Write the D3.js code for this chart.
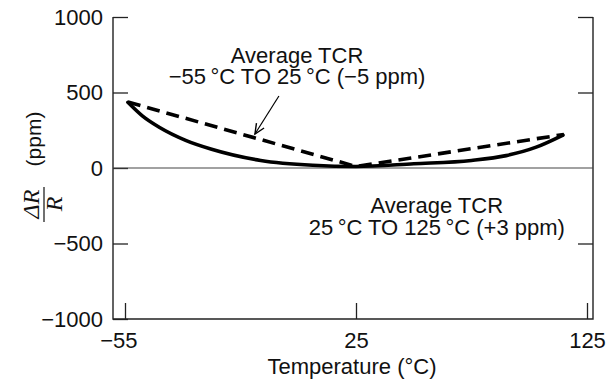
<!DOCTYPE html>
<html>
<head>
<meta charset="utf-8">
<script src="https://cdn.jsdelivr.net/npm/d3@7"></script>
<style>
  body { margin: 0; background: #fff; }
  text { font-family: "Liberation Sans", Arial, sans-serif; fill: #111; }
</style>
</head>
<body>
<svg id="chart" width="609" height="382"></svg>
<script>
//axis ticks
const xTicks = [-55, 25, 125];
const yTicks = [-1000, -500, 0, 500, 1000];
const rightTicks = [-500, 500, 1000];

//measured dR/R curve (ppm vs temperature)
const curveTemp = [-54, -49, -43, -34, -25, -8, 10, 25, 50, 75, 90, 103, 114.6];
const curveVal  = [435, 345, 268, 183, 124, 50, 18, 10, 28, 50, 82, 138, 218];

//average TCR chords
const avgTemp = [-54, 25, 115];
const avgVal  = [437, 10, 222];

//annotation text + arrow (data coordinates)
const noteTop = ["Average TCR", "\u221255\u2009°C TO 25\u2009°C (\u22125 ppm)"];
const noteBottom = ["Average TCR", "25\u2009°C TO 125\u2009°C (+3 ppm)"];
const arrowFrom = [-1.7, 477];
const arrowTo = [-10, 225];

const svg = d3.select("#chart");
const fontSize = "22px";

//plot frame
const plotLeft = 113, plotRight = 593, plotTop = 17, plotBottom = 319;

//x axis ticks are evenly spaced in the original, so piecewise scale
const x = d3.scaleLinear()
  .domain(xTicks)
  .range([125, 356, 587]);

const y = d3.scaleLinear()
  .domain([-1000, 1000])
  .range([plotBottom, plotTop]);

const axisColor = "#222";

/*----------------------
AXES
----------------------*/
const gLeft = svg.append("g")
  .attr("transform", `translate(${plotLeft},0)`)
  .call(d3.axisLeft(y)
    .tickValues(yTicks)
    .tickFormat(d3.format("d"))
    .tickSizeInner(-15)
    .tickSizeOuter(0)
    .tickPadding(10));

const gRight = svg.append("g")
  .attr("transform", `translate(${plotRight},0)`)
  .call(d3.axisRight(y)
    .tickValues(rightTicks)
    .tickFormat("")
    .tickSizeInner(-15)
    .tickSizeOuter(0));

const gBottom = svg.append("g")
  .attr("transform", `translate(0,${plotBottom})`)
  .call(d3.axisBottom(x)
    .tickValues(xTicks)
    .tickFormat(d3.format("d"))
    .tickSizeInner(-16)
    .tickSizeOuter(0)
    .tickPadding(13));

[gLeft, gRight, gBottom].forEach(g => {
  g.select(".domain").remove();
  g.selectAll("line").attr("stroke", axisColor).attr("stroke-width", 1.3);
  g.selectAll("text")
    .style("font-size", fontSize)
    .style("font-family", "'Liberation Sans', Arial, sans-serif")
    .attr("fill", "#111");
});

//number centred on the tick, minus sign hanging to the left
gBottom.selectAll("text").filter(d => d < 0).attr("dx", "-0.3em");

//frame lines (no top border)
svg.append("path")
  .attr("d", `M${plotLeft},${plotTop}V${plotBottom}H${plotRight}V${plotTop}`)
  .attr("fill", "none")
  .attr("stroke", axisColor)
  .attr("stroke-width", 1.4);

//zero line
svg.append("line")
  .attr("x1", plotLeft).attr("x2", plotRight)
  .attr("y1", y(0)).attr("y2", y(0))
  .attr("stroke", "#444")
  .attr("stroke-width", 1.1);

/*----------------------
CURVES
----------------------*/
const curveData = curveTemp.map((t, i) => ({ t: t, v: curveVal[i] }));
const avgData = avgTemp.map((t, i) => ({ t: t, v: avgVal[i] }));

const line = d3.line()
  .x(d => x(d.t))
  .y(d => y(d.v));

svg.append("path")
  .attr("d", line.curve(d3.curveMonotoneX)(curveData))
  .attr("fill", "none")
  .attr("stroke", "#000")
  .attr("stroke-width", 3.6)
  .attr("stroke-linecap", "round");

svg.append("path")
  .attr("d", line.curve(d3.curveLinear)(avgData))
  .attr("fill", "none")
  .attr("stroke", "#000")
  .attr("stroke-width", 3.6)
  .attr("stroke-dasharray", "13,7");

/*----------------------
ANNOTATIONS
----------------------*/
svg.append("defs").append("marker")
  .attr("id", "arrow")
  .attr("viewBox", "-1 -6 12 12")
  .attr("refX", 10).attr("refY", 0)
  .attr("markerWidth", 12).attr("markerHeight", 12)
  .attr("markerUnits", "userSpaceOnUse")
  .attr("orient", "auto")
  .append("path")
  .attr("d", "M0,-4.5L10,0L0,4.5")
  .attr("fill", "none")
  .attr("stroke", "#000")
  .attr("stroke-width", 1.4);

svg.append("line")
  .attr("x1", x(arrowFrom[0])).attr("y1", y(arrowFrom[1]))
  .attr("x2", x(arrowTo[0])).attr("y2", y(arrowTo[1]))
  .attr("stroke", "#000")
  .attr("stroke-width", 1.2)
  .attr("marker-end", "url(#arrow)");

function note(lines, t, v1, v2) {
  const g = svg.append("g").attr("text-anchor", "middle").style("font-size", fontSize);
  g.append("text").attr("x", x(t)).attr("y", y(v1)).text(lines[0]);
  g.append("text").attr("x", x(t)).attr("y", y(v2)).text(lines[1]);
}
note(noteTop, 4.6, 698, 556);
note(noteBottom, 60, -295, -444);

/*----------------------
AXIS TITLES
----------------------*/
svg.append("text")
  .attr("x", 352)
  .attr("y", 374)
  .attr("text-anchor", "middle")
  .style("font-size", fontSize)
  .text("Temperature (°C)");

const yTitle = svg.append("g")
  .attr("transform", "rotate(-90)");

yTitle.append("text")
  .attr("x", -139)
  .attr("y", 41)
  .attr("text-anchor", "middle")
  .style("font-size", "21px")
  .text("(ppm)");

yTitle.append("text")
  .attr("x", -204)
  .attr("y", 39)
  .attr("text-anchor", "middle")
  .style("font-family", "'Liberation Serif', 'DejaVu Serif', serif")
  .style("font-style", "italic")
  .style("font-size", "24px")
  .text("\u0394R");

yTitle.append("line")
  .attr("x1", -222).attr("x2", -187)
  .attr("y1", 44).attr("y2", 44)
  .attr("stroke", "#111")
  .attr("stroke-width", 1.2);

yTitle.append("text")
  .attr("x", -204)
  .attr("y", 62)
  .attr("text-anchor", "middle")
  .style("font-family", "'Liberation Serif', 'DejaVu Serif', serif")
  .style("font-style", "italic")
  .style("font-size", "24px")
  .text("R");
</script>
</body>
</html>
